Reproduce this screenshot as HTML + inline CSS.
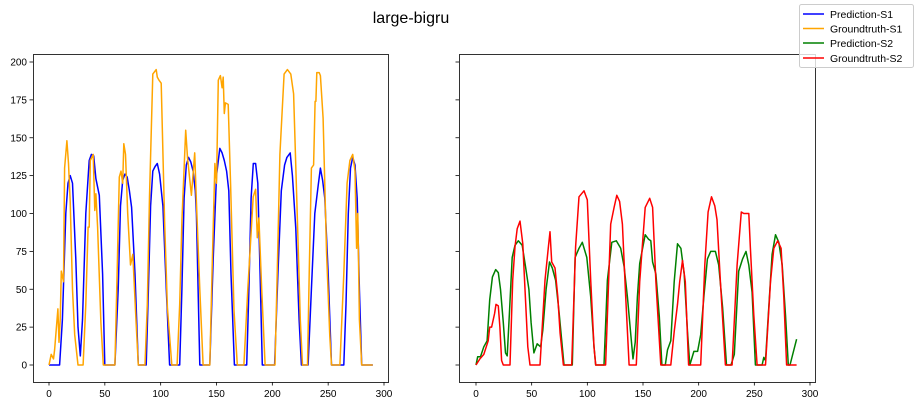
<!DOCTYPE html>
<html><head><meta charset="utf-8"><style>
body{margin:0;background:#fff;width:917px;height:404px;overflow:hidden}
svg{font-family:"Liberation Sans","DejaVu Sans",sans-serif}
</style></head><body>
<svg id="chart" width="917" height="404" xmlns="http://www.w3.org/2000/svg">
<rect x="0" y="0" width="917" height="404" fill="#fff"/>
<text x="411" y="23" font-size="16" text-anchor="middle">large-bigru</text>
<g id="left"></g>
<g id="right"></g>
<g>
<rect x="799.5" y="4.5" width="114" height="63" rx="2" fill="#fff" fill-opacity="0.8" stroke="#ccc"/>
<g><line x1="803" y1="14" x2="824" y2="14" stroke="#0000ff" stroke-width="1.5"/><text x="830" y="18" font-size="10.5">Prediction-S1</text></g>
<g><line x1="803" y1="28.5" x2="824" y2="28.5" stroke="#ffa500" stroke-width="1.5"/><text x="830" y="32.5" font-size="10.5">Groundtruth-S1</text></g>
<g><line x1="803" y1="43" x2="824" y2="43" stroke="#008000" stroke-width="1.5"/><text x="830" y="47" font-size="10.5">Prediction-S2</text></g>
<g><line x1="803" y1="58" x2="824" y2="58" stroke="#ff0000" stroke-width="1.5"/><text x="830" y="62" font-size="10.5">Groundtruth-S2</text></g>
</g>
</svg>
<script>
const xTicks=[0,50,100,150,200,250,300];
const yTicks=[0,25,50,75,100,125,150,175,200];
const predS1X=[0,9.5,12,15,17,19,21,24,26,28,30,33,36,38,40,42,45,48,50,59,62,64,66,68,70,72,74,77,80,87,89,91,93,95,97,99,102,105,108,117,119,121,123,125,127,129,131,132,133.5,135,144,147,150,153,155,157,159,161,163,166,177,179,181,183,185,187,189,191,202,205,208,211,213,216,218,221,224,226,232,235,238,241,243,245,247,250,253,264,266,268,270,272,274,276,278,280,290];
const predS1Y=[0,0,30,100,120,125,120,70,25,6,30,100,135,139,138,123,112,60,0,0,50,105,122,126,124,115,104,60,0,0,50,105,128,131,133,126,105,50,0,0,50,110,132,137,134,128,115,100,50,0,0,70,125,143,140,135,128,115,60,0,0,50,110,133,133,120,60,0,0,60,115,132,137,140,125,90,30,0,0,50,100,118,130,122,110,60,0,0,40,100,130,137,132,110,50,0,0];
const gtS1X=[0,2,4,5,8,9,10,11,13,14,16,17.5,19,21,23,26,30.5,33,35,36,37,39.6,41,42,43.5,46.5,48.6,59,61,63,64.5,66,67,68.5,70.5,73,75,78,80,86,88,90,93,96,97,98.5,100.5,103.5,106,110,114.7,117,119,122.4,124,127.5,130.5,132,135,138,144,146,148.6,150,151.6,153.5,155,156,157,158,160.5,162.6,165.7,168.6,174.5,178,182.9,185,186.5,188,190.5,193.5,202.4,205,206.8,210.5,213.5,216.5,219,222,225,227,231.5,233,235,237,238.3,239,239.8,242,243,245.5,248.5,251.5,253,260.5,264,267,269.5,272,274,275.5,276.5,278,280,290];
const gtS1Y=[0,7,4,10,37,15,30,62,55,130,148,133,108,50,20,0,0,40,91,91,135,139,102,113,91,28,0,0,60,124,128,120,146,139,100,66,73,28,0,0,40,111,192,195,190,188,186,95,38,0,0,40,95,155,137,112,140,108,50,0,0,60,133,120,188,191,183,190,166,173,172,119,36,0,0,50,111,116,84,97,50,0,0,80,139,192,195,192,179,107,30,0,0,60,130,132,174,174,193,193,191,163,75,19,0,0,60,120,135,139,128,77,100,30,0,0];
const predS2X=[0,1.5,4,7,10,12.3,14.7,17.7,20,22,24.5,26.5,28,30,32.5,35,38,41.5,44.5,47.5,49.5,52,55,58,60,63,66,68.5,71.5,74.5,77.5,79,86.5,89,92.5,95.5,99.5,103,106,107.5,115,118,122,126,130,133,136,139,141,143,145,147,152,155,157,158.6,161.6,164.6,167,170,172,175,178,181,184,187,190,192,195.7,199,201.8,204.8,207.8,210.8,215,218,221.5,225,229,232,236,239.5,242.5,245,248,251,257,258.5,260,262.5,266,269,272,275,278,280.5,282,288];
const predS2Y=[0,5.5,5.5,12,16,43,58,63,61,50,28,8,6,34,71,79,82,79,65,50,28,8,14,12,23,50,68,64,56,36,12,0,0,71,77,81,71,45,12,0,0,56,81,82,77,65,45,20,4,15,45,67,86,83,82,68,60,32,0,0,10,16,55,80,77,60,22,0,9,9,20,46,70,75,75,66,38,0,0,7,62,70,75,66,48,0,0,5,3,33,73,86,81,66,33,0,0,17];
const gtS2X=[0,3.5,7,11,12.3,14,16.7,18,20,21.5,23,24.5,30.5,33,35,37,39.5,42,44,46.5,48.5,57.5,62,65,66.5,68,71,73.5,75.5,78.5,86,89.5,92.5,97,100,103,106,107.5,116.4,121,124,126.5,129,131.5,134.5,137.5,144,147,152,156,158.6,161.6,166,175,178,181,183,185.5,188,191,201.8,205.5,208.5,211.5,214.5,216.5,219.5,224,230,234.5,238.3,240.5,245,246.5,249.5,252.5,260,264.5,267.5,271,274,276.5,279,288];
const gtS2Y=[0,4,7,16,25,25,34,40,39,25,3,0,0,56,78,90,95,80,50,12,0,0,56,78,88,68,64,45,21,0,0,78,111,115,109,56,12,0,0,93,104,112,108,93,45,0,0,55,104,110,104,55,0,0,22,40,55,69,55,0,0,66,101,111,105,96,55,0,0,66,101,100,100,77,33,0,0,55,77,82,77,45,0,0];

const NS="http://www.w3.org/2000/svg";
function mk(tag,attrs,parent){const e=document.createElementNS(NS,tag);for(const k in attrs)e.setAttribute(k,attrs[k]);parent.appendChild(e);return e;}
function drawPanel(g,left,right,x0,x300,showYLabels,series){
  const top=54,bottom=382;
  const xs=v=>x0+(x300-x0)*v/300;
  const ys=v=>365-(365-62)*v/200;
  xTicks.forEach(t=>{
    const px=xs(t);
    const tk=mk('line',{x1:px,y1:bottom,x2:px,y2:bottom+3.5,stroke:'#000','stroke-width':0.8},g);
    
    
    const tl=mk('text',{x:px,y:bottom+15,'font-size':10,'text-anchor':'middle'},g);
    tl.textContent=t;
    
    
  });
  yTicks.forEach(t=>{
    const py=ys(t);
    const tk=mk('line',{x1:left-3.5,y1:py,x2:left,y2:py,stroke:'#000','stroke-width':0.8},g);
    
    
    if(showYLabels){
      const tl=mk('text',{x:left-6,y:py+3.5,'font-size':10,'text-anchor':'end'},g);
      tl.textContent=t;
      
      
    }
  });
  series.forEach(s=>{
    const d=s.x.map((v,i)=>(i?'L':'M')+xs(v).toFixed(1)+' '+ys(s.y[i]).toFixed(1)).join(' ');
    const p=mk('path',{d:d,fill:'none',stroke:s.c,'stroke-width':1.5,'stroke-linejoin':'round'},g);
    
    
  });
  const fr=mk('rect',{x:left+0.5,y:top+0.5,width:right-left,height:bottom-top,fill:'none',stroke:'#000','stroke-width':0.8},g);
  
  
}
drawPanel(document.getElementById('left'),33,388,49,384,true,[
  {x:predS1X,y:predS1Y,c:'#0000ff',n:'line-prediction-s1'},
  {x:gtS1X,y:gtS1Y,c:'#ffa500',n:'line-groundtruth-s1'}]);
drawPanel(document.getElementById('right'),459,815,476,810,false,[
  {x:predS2X,y:predS2Y,c:'#008000',n:'line-prediction-s2'},
  {x:gtS2X,y:gtS2Y,c:'#ff0000',n:'line-groundtruth-s2'}]);
</script>
</body></html>
